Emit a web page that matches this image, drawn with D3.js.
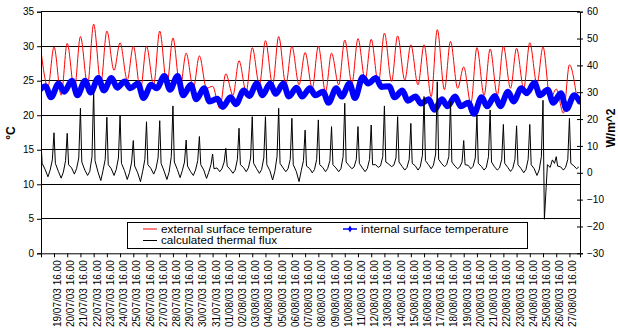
<!DOCTYPE html>
<html>
<head>
<meta charset="utf-8">
<script src="https://cdn.jsdelivr.net/npm/d3@7"></script>
<style>
  body { margin: 0; background: #fff; }
  svg { display: block; }
  text { font-family: "Liberation Sans", Arial, sans-serif; }
</style>
</head>
<body>
<svg id="chart" width="618" height="333"></svg>
<script>
// One entry per day of the monitoring period
const days = [
  "18/07/03","19/07/03","20/07/03","21/07/03","22/07/03","23/07/03","24/07/03",
  "25/07/03","26/07/03","27/07/03","28/07/03","29/07/03","30/07/03","31/07/03",
  "01/08/03","02/08/03","03/08/03","04/08/03","05/08/03","06/08/03","07/08/03",
  "08/08/03","09/08/03","10/08/03","11/08/03","12/08/03","13/08/03","14/08/03",
  "15/08/03","16/08/03","17/08/03","18/08/03","19/08/03","20/08/03","21/08/03",
  "22/08/03","23/08/03","24/08/03","25/08/03","26/08/03","27/08/03","28/08/03"
];

// External surface temperature (°C): early-morning minimum and afternoon maximum
const extLow = [
  null, 24.1, 22.9, 23.7, 24.4, 24.6, 26.5, 25.1, 23.7, 24.4, 24.4, 24.0, 23.9, 23.9,
  21.0, 22.9, 23.4, 24.4, 24.4, 24.4, 24.4, 23.9, 23.4, 24.4, 24.6, 25.1, 24.6, 24.9,
  25.1, 24.4, 22.7, 23.7, 23.9, 21.7, 22.9, 22.9, 23.9, 23.9, 24.5, 22.3, 20.3, 22.7
];
const extHigh = [
  29.6, 29.9, 30.4, 31.4, 33.2, 32.2, 30.5, 30.0, 30.0, 32.2, 31.2, 29.0, 28.6, 24.2,
  26.0, 27.9, 29.8, 30.8, 31.4, 30.0, 29.1, 30.0, 29.0, 30.9, 31.1, 31.0, 31.9, 31.5,
  30.2, 30.2, 32.4, 30.7, 27.0, 29.8, 29.6, 30.0, 29.7, 30.5, 29.9, 23.8, 27.3, null
];

// Internal surface temperature (°C): night maximum and late-morning minimum
const intHigh = [
  null, 24.2, 24.6, 25.0, 25.0, 25.4, 25.4, 24.9, 24.6, 24.4, 25.7, 25.7, 24.4, 23.9,
  22.4, 22.6, 23.6, 24.6, 24.6, 24.6, 24.0, 23.9, 23.4, 23.9, 24.6, 25.5, 25.4, 24.2,
  23.6, 22.7, 22.3, 22.3, 22.7, 21.8, 22.6, 22.8, 23.4, 23.9, 24.7, 23.7, 23.2, 22.9
];
const intLow = [
  23.4, 22.6, 23.4, 22.9, 23.3, 23.6, 24.0, 23.9, 22.5, 23.9, 23.7, 22.9, 22.3, 22.0,
  21.2, 21.6, 22.8, 22.9, 23.1, 22.7, 22.7, 22.9, 21.8, 22.7, 22.5, 24.6, 24.1, 22.6,
  22.1, 21.7, 20.8, 21.3, 21.3, 20.2, 21.3, 21.3, 22.0, 23.2, 22.9, 21.8, 20.9, 22.0
];

// Calculated thermal flux (W/m^2) through the day:
// midnight, pre-dawn low, mid-morning, midday, afternoon peak, evening
const fluxNight = [
  null, 1.2, 0.5, 1.8, 1.0, 0.2, 1.5, 0.8, 0.0, 1.6, 0.6, 1.2, 0.4, 1.0,
  1.8, 1.2, 2.0, 1.5, 0.8, 1.8, 0.5, 1.6, 2.0, 1.8, 2.6, 1.8, 3.0, 3.2,
  2.4, 2.6, 3.0, 3.4, 2.5, 2.8, 2.4, 2.2, 2.0, 1.6, 1.5, 3.0, 2.2, 2.6
];
const fluxLow = [
  null, -1.5, -2.0, -0.5, -1.0, -2.9, -1.0, -2.5, -3.3, -0.5, -2.5, -1.8, -1.0, -2.1,
  0.4, -0.2, 0.4, -0.2, -2.7, 0.4, -3.3, 0.0, 0.4, 0.4, 1.5, 0.4, 2.0, 2.3,
  1.0, 1.0, 1.5, 2.3, 1.5, 1.5, 1.0, 1.0, 0.5, 0.0, -1.0, 2.0, 1.0, 1.5
];
const fluxMorn = [
  null, 1.0, 0.2, 1.5, 0.5, 0.8, 1.2, 0.0, 0.5, 1.4, 0.2, 0.8, 1.0, 0.2,
  1.5, 1.0, 1.8, 1.2, 0.5, 1.5, 0.8, 1.2, 1.6, 1.5, 2.2, 1.6, 2.6, 2.8,
  2.0, 2.2, 2.8, 3.0, 2.2, 2.4, 2.0, 1.8, 1.6, 1.2, 1.0, 4.8, 2.0, 2.2
];
const fluxNoon = [
  null, 4.8, 4.5, 5.5, 6.0, 5.0, 5.5, 4.0, 5.0, 5.5, 6.0, 4.0, 4.5, 3.0,
  4.0, 5.0, 5.5, 5.5, 6.0, 5.0, 4.5, 5.0, 4.5, 6.0, 5.0, 5.0, 6.0, 5.5,
  5.0, 6.5, 7.0, 6.0, 4.0, 5.5, 6.0, 5.0, 5.0, 5.0, 6.0, 3.5, 5.0, null
];
const fluxPeak = [
  13.0, 14.9, 14.7, 24.0, 30.8, 20.7, 21.5, 12.0, 19.0, 19.4, 24.9, 12.2, 13.5, 7.0,
  9.1, 16.6, 20.9, 20.9, 24.0, 20.3, 15.9, 19.7, 17.2, 25.9, 17.2, 17.8, 24.9, 20.9,
  18.4, 28.4, 33.9, 26.5, 12.0, 21.5, 23.4, 18.0, 17.5, 18.0, 27.0, 6.0, 20.3, null
];
const fluxEve = [
  3.5, 3.5, 3.0, 4.0, 4.5, 3.0, 3.5, 2.5, 3.0, 3.5, 4.0, 2.5, 3.0, 1.5,
  2.5, 3.0, 3.5, 3.0, 3.5, 3.0, 2.5, 3.0, 3.0, 4.0, 3.5, 3.0, 4.0, 4.0,
  3.5, 4.5, 5.0, 4.0, 3.0, 3.5, 4.0, 3.5, 3.0, 3.0, -17.3, 2.5, 3.5, null
];

// Left (°C) and right (W/m^2) axis ticks, plus one x label per day at 16.00
const tempTicks = [0, 5, 10, 15, 20, 25, 30, 35];
const fluxTicks = [-30, -20, -10, 0, 10, 20, 30, 40, 50, 60];
const labelDays = days.slice(1, 41);

const svg = d3.select("#chart");
const M = { left: 41, right: 580, top: 11.7, bottom: 253.3 };

const parse = d3.utcParse("%d/%m/%y %H:%M");
const x = d3.scaleUtc()
  .domain([parse("18/07/03 16:24"), parse("28/08/03 11:10")])
  .range([M.left, M.right]);
const yT = d3.scaleLinear().domain([0, 35]).range([M.bottom, M.top]);
const yF = d3.scaleLinear().domain([-30, 60]).range([M.bottom, M.top]);

function series(parts) {
  const out = [];
  parts.forEach(([vals, hhmm]) => {
    vals.forEach((v, i) => {
      if (v != null) out.push({ t: parse(days[i] + " " + hhmm), v });
    });
  });
  return out.sort((a, b) => a.t - b.t);
}

const ext = series([[extLow, "05:00"], [extHigh, "16:00"]]);
const int = series([[intHigh, "00:30"], [intLow, "10:30"]]);
const flux = series([
  [fluxNight, "00:00"], [fluxLow, "05:00"], [fluxMorn, "09:00"],
  [fluxNoon, "13:00"], [fluxPeak, "16:00"], [fluxEve, "18:30"]
]);

// gridlines
svg.append("g")
  .selectAll("line")
  .data(tempTicks.filter(d => d > 0))
  .join("line")
  .attr("x1", M.left).attr("x2", M.right)
  .attr("y1", d => yT(d)).attr("y2", d => yT(d))
  .attr("stroke", "#000").attr("stroke-width", 1)
  .attr("shape-rendering", "crispEdges");

svg.append("clipPath").attr("id", "plot")
  .append("rect")
  .attr("x", M.left).attr("y", M.top - 3)
  .attr("width", M.right - M.left).attr("height", M.bottom - M.top + 6);

const plot = svg.append("g").attr("clip-path", "url(#plot)");

plot.append("path")
  .datum(ext)
  .attr("fill", "none").attr("stroke", "#ff0000").attr("stroke-width", 1)
  .attr("d", d3.line().x(d => x(d.t)).y(d => yT(d.v)).curve(d3.curveMonotoneX));

plot.append("path")
  .datum(int)
  .attr("fill", "none").attr("stroke", "#0000ff").attr("stroke-width", 6)
  .attr("stroke-linejoin", "round").attr("stroke-linecap", "round")
  .attr("d", d3.line().x(d => x(d.t)).y(d => yT(d.v)).curve(d3.curveMonotoneX));

plot.append("path")
  .datum(flux)
  .attr("fill", "none").attr("stroke", "#000").attr("stroke-width", 1)
  .attr("d", d3.line().x(d => x(d.t)).y(d => yF(d.v)));

// axes
const axisFont = g => g.selectAll("text")
  .attr("font-size", 10).attr("fill", "#000")
  .attr("font-family", '"Liberation Sans", Arial, sans-serif');

const leftAxis = svg.append("g")
  .attr("transform", `translate(${M.left},0)`)
  .call(d3.axisLeft(yT).tickValues(tempTicks).tickSize(4).tickPadding(3))
  .call(axisFont);
leftAxis.select(".domain").attr("stroke", "#000");

const rightAxis = svg.append("g")
  .attr("transform", `translate(${M.right},0)`)
  .call(d3.axisRight(yF).tickValues(fluxTicks).tickSize(3).tickPadding(4))
  .call(axisFont);
rightAxis.selectAll(".tick line").attr("x1", -3);
rightAxis.select(".domain").attr("stroke", "#000");

const bottomAxis = svg.append("g")
  .attr("transform", `translate(0,${M.bottom})`)
  .call(d3.axisBottom(x)
    .tickValues(labelDays.map(d => parse(d + " 16:00")))
    .tickSize(4)
    .tickFormat(d => d3.utcFormat("%d/%m/%y")(d) + " 16.00"));
bottomAxis.select(".domain").attr("stroke", "#000");
bottomAxis.selectAll(".tick text")
  .attr("font-size", 10)
  .attr("text-anchor", "end")
  .attr("transform", "translate(3,7) rotate(-90)")
  .attr("x", 0).attr("y", 0).attr("dy", "0.35em");

// axis titles
svg.append("text")
  .attr("transform", "translate(15,133) rotate(-90)")
  .attr("text-anchor", "middle").attr("font-size", 12).attr("font-weight", "bold")
  .text("°C");
svg.append("text")
  .attr("transform", "translate(615,128) rotate(-90)")
  .attr("text-anchor", "middle").attr("font-size", 12).attr("font-weight", "bold")
  .text("W/m^2");

// legend
const lg = svg.append("g");
lg.append("rect")
  .attr("x", 127).attr("y", 222).attr("width", 400).attr("height", 26)
  .attr("fill", "#fff").attr("stroke", "#000").attr("stroke-width", 1)
  .attr("shape-rendering", "crispEdges");
const items = [
  { label: "external surface temperature", color: "#ff0000", x: 143, y: 229, w: 151, marker: false },
  { label: "internal surface temperature", color: "#0000ff", x: 343, y: 229, w: 147.6, marker: true },
  { label: "calculated thermal flux", color: "#000", x: 143, y: 240.5, w: 116, marker: false }
];
items.forEach(it => {
  lg.append("line")
    .attr("x1", it.x).attr("x2", it.x + 14)
    .attr("y1", it.y).attr("y2", it.y)
    .attr("stroke", it.color).attr("stroke-width", it.marker ? 1.5 : 1);
  if (it.marker) {
    lg.append("path")
      .attr("d", d3.symbol(d3.symbolDiamond, 14)())
      .attr("transform", `translate(${it.x + 7},${it.y})`)
      .attr("fill", it.color);
  }
  lg.append("text")
    .attr("x", it.x + 18).attr("y", it.y).attr("dy", "0.36em")
    .attr("font-size", 10.4)
    .attr("textLength", it.w).attr("lengthAdjust", "spacingAndGlyphs")
    .text(it.label);
});
</script>
</body>
</html>
